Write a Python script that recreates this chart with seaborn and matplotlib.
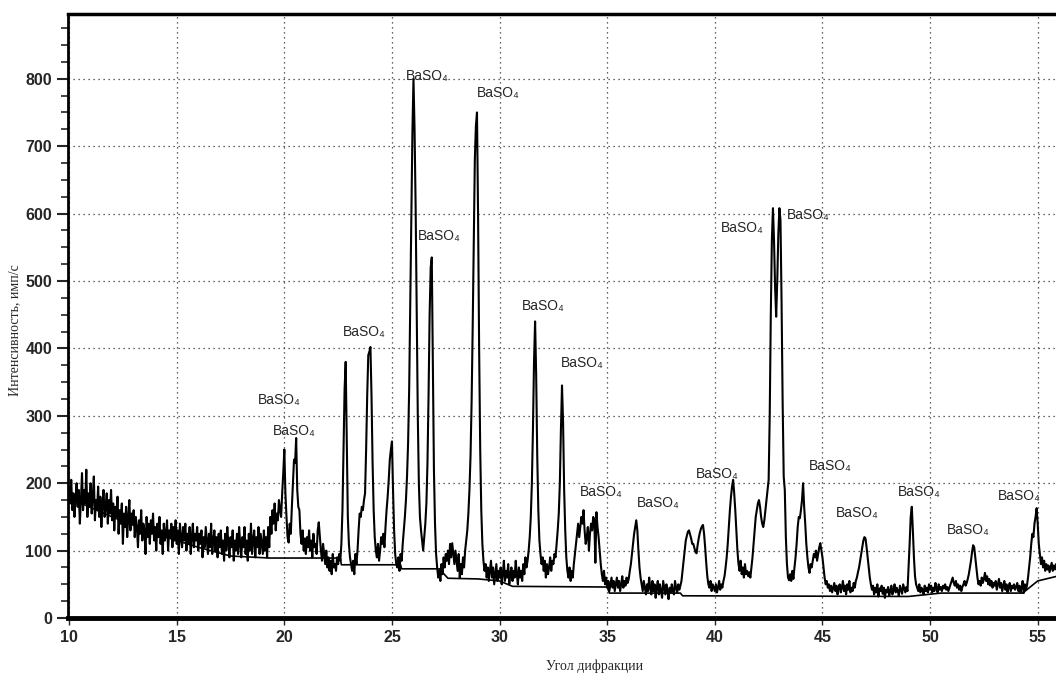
import numpy as np
import seaborn as sns
import matplotlib.pyplot as plt
from matplotlib.ticker import MultipleLocator

# XRD-дифрактограмма, шаг 0.05 град, начиная с 10.00
angle_start = 10.0
angle_step = 0.05
intensity = [
    195, 170, 205, 160, 185, 150, 178, 200, 165, 190, 140, 175, 215, 160, 190, 170, 220, 150, 185, 165,  # 10
    200, 155, 180, 210, 145, 175, 160, 195, 150, 180, 135, 170, 190, 150, 165, 185, 140, 175, 155, 190,  # 11
    145, 170, 130, 165, 150, 180, 125, 160, 140, 170, 110, 155, 135, 165, 120, 150, 175, 130, 155, 140,  # 12
    160, 120, 150, 135, 105, 145, 125, 160, 115, 140, 130, 95, 150, 120, 140, 110, 145, 125, 155, 115,   # 13
    135, 100, 140, 120, 150, 110, 130, 95, 140, 115, 125, 145, 100, 130, 120, 140, 105, 135, 115, 145,   # 14
    110, 130, 95, 140, 120, 105, 135, 115, 140, 100, 125, 110, 135, 95, 120, 140, 105, 125, 115, 135,    # 15
    100, 125, 110, 130, 90, 120, 105, 135, 115, 95, 125, 105, 140, 95, 115, 130, 100, 120, 90, 125,      # 16
    105, 130, 95, 115, 85, 125, 100, 135, 110, 90, 120, 105, 130, 85, 115, 100, 125, 95, 135, 110,       # 17
    90, 120, 105, 135, 95, 115, 85, 125, 100, 140, 95, 115, 130, 90, 120, 105, 135, 95, 125, 110,        # 18
    95, 130, 100, 120, 90, 135, 105, 150, 125, 160, 140, 170, 130, 155, 145, 175, 160, 150, 185, 215,    # 19
    250, 185, 150, 120, 112, 140, 125, 165, 200, 235, 230, 267, 190, 165, 160, 125, 110, 130, 100, 118,  # 20
    95, 120, 105, 130, 100, 115, 90, 125, 105, 110, 95, 130, 142, 120, 100, 85, 110, 95, 80, 100,        # 21
    75, 90, 70, 85, 65, 95, 75, 80, 70, 90, 80, 95, 85, 110, 160, 250, 340, 380, 260, 150,               # 22
    110, 90, 80, 70, 85, 65, 95, 80, 100, 130, 155, 150, 165, 160, 175, 185, 250, 330, 390, 395,         # 23
    402, 330, 230, 160, 120, 100, 90, 110, 85, 100, 120, 110, 125, 105, 135, 160, 180, 205, 235, 250,    # 24
    262, 190, 130, 95, 80, 75, 90, 70, 95, 85, 110, 130, 150, 175, 210, 260, 340, 470, 610, 720,         # 25
    800, 725, 610, 460, 300, 200, 150, 130, 115, 100, 120, 140, 170, 230, 330, 450, 520, 535, 380, 220,  # 26
    140, 95, 75, 60, 70, 55, 80, 65, 90, 75, 95, 85, 100, 80, 110, 90, 111, 95, 80, 100,                 # 27
    85, 70, 95, 60, 80, 65, 90, 75, 100, 115, 130, 155, 190, 240, 320, 430, 560, 680, 730, 750,          # 28
    600, 400, 250, 160, 110, 85, 70, 80, 60, 75, 55, 70, 85, 60, 75, 50, 65, 80, 55, 70,                 # 29
    60, 75, 50, 65, 85, 55, 70, 60, 80, 50, 65, 75, 55, 70, 60, 85, 65, 50, 75, 60,                      # 30
    70, 55, 80, 65, 90, 75, 85, 100, 120, 150, 200, 280, 380, 440, 360, 240, 160, 115, 95, 80,           # 31
    90, 70, 85, 60, 80, 65, 75, 90, 70, 85, 80, 95, 90, 110, 130, 155, 200, 280, 345, 290,               # 32
    190, 130, 90, 70, 60, 75, 55, 70, 60, 80, 95, 110, 125, 140, 120, 135, 150, 140, 160, 130,           # 33
    110, 120, 135, 100, 125, 140, 130, 150, 145, 82, 157, 135, 120, 100, 80, 65, 55, 70, 50, 60,         # 34
    45, 55, 40, 50, 60, 45, 55, 40, 50, 60, 45, 55, 40, 50, 62, 45, 55, 48, 60, 52,                      # 35
    58, 70, 80, 95, 110, 125, 135, 145, 130, 100, 75, 60, 50, 40, 55, 45, 35, 50, 40, 60,                # 36
    45, 35, 55, 40, 50, 30, 45, 55, 35, 50, 40, 30, 55, 45, 35, 50, 40, 28, 45, 38,                      # 37
    50, 40, 35, 55, 45, 38, 50, 42, 48, 55, 70, 85, 100, 115, 122, 128, 130, 124, 118, 110,              # 38
    110, 104, 98, 96, 108, 118, 126, 132, 136, 138, 125, 105, 82, 62, 50, 45, 55, 40, 50, 45,            # 39
    40, 50, 38, 45, 55, 42, 50, 45, 55, 62, 75, 90, 110, 135, 160, 180, 195, 205, 185, 160,              # 40
    130, 100, 80, 70, 85, 65, 75, 60, 80, 65, 70, 62, 68, 60, 75, 90, 110, 130, 150, 160,                # 41
    170, 175, 165, 150, 140, 135, 145, 160, 175, 190, 205, 300, 450, 560, 608, 560, 490, 447, 500, 570,  # 42
    608, 590, 470, 320, 210, 190, 120, 80, 60, 56, 65, 55, 70, 58, 75, 90, 110, 135, 150, 148,           # 43
    160, 175, 200, 165, 140, 110, 90, 75, 67, 80, 75, 85, 95, 90, 100, 85, 95, 105, 111, 100,            # 44
    90, 75, 60, 50, 55, 45, 50, 40, 48, 38, 45, 52, 40, 48, 35, 45, 50, 38, 45, 55,                      # 45
    40, 48, 35, 50, 42, 55, 38, 45, 40, 52, 45, 55, 60, 68, 75, 85, 95, 105, 115, 120,                   # 46
    118, 105, 90, 75, 60, 50, 42, 48, 35, 45, 38, 50, 32, 44, 40, 48, 36, 45, 30, 42,                    # 47
    38, 46, 33, 40, 48, 35, 42, 50, 38, 45, 40, 33, 48, 42, 36, 50, 44, 38, 46, 40,                      # 48
    75, 110, 150, 165, 130, 90, 62, 50, 45, 40, 50, 38, 45, 42, 35, 48, 40, 45, 38, 50,                  # 49
    42, 48, 38, 45, 40, 52, 44, 38, 50, 42, 46, 40, 48, 44, 50, 42, 46, 40, 45, 50,                      # 50
    55, 60, 52, 48, 55, 45, 50, 42, 48, 40, 46, 50, 55, 48, 52, 58, 65, 75, 85, 98,                      # 51
    108, 105, 90, 75, 60, 50, 55, 48, 60, 52, 58, 67, 55, 62, 50, 58, 48, 55, 45, 52,                    # 52
    48, 55, 42, 50, 58, 45, 52, 40, 48, 55, 42, 50, 38, 46, 52, 40, 48, 44, 50, 42,                      # 53
    46, 52, 40, 48, 38, 45, 55, 37, 50, 42, 48, 60, 75, 90, 110, 125, 120, 140, 150, 163,                # 54
    140, 110, 95, 80, 90, 75, 85, 70, 80, 72, 78, 68, 75, 82, 70, 78, 72, 80, 74, 76,                    # 55
]

# линия фона
bg_angle = [10, 12, 14, 16, 17.5, 19.3, 22.6, 22.65, 25.4, 25.45, 27.2, 27.6, 29.0, 30.0, 30.6,
            35.0, 35.1, 38.4, 38.5, 49.0, 50.5, 54.3, 55.0, 55.9]
bg_level = [178, 150, 125, 105, 92, 89, 89, 79, 79, 73, 73, 59, 58, 55, 47,
            46, 37, 37, 33, 32, 37, 37, 55, 62]

# подписи пиков: угол (левый край текста), интенсивность
label_angle = [25.65, 28.96, 26.2, 22.7, 18.75, 19.45, 31.05, 32.87, 40.27, 43.35,
               33.75, 36.36, 39.1, 44.37, 45.63, 48.52, 50.8, 53.13]
label_level = [804, 779, 567, 424, 323, 277, 463, 378, 579, 598,
               187, 171, 214, 225, 156, 187, 131, 181]
label_text = "BaSO\u2084"

angles = angle_start + angle_step * np.arange(len(intensity))

sns.set_style("white")
plt.rcParams['font.family'] = ['Liberation Sans', 'DejaVu Sans']

fig = plt.figure(figsize=(10.56, 6.75), dpi=100)
ax = fig.add_axes([0.0644, 0.0844, 0.9356, 0.8948])

sns.lineplot(x=angles, y=intensity, color="black", linewidth=1.5,
             estimator=None, sort=False, ax=ax)
sns.lineplot(x=bg_angle, y=bg_level, color="black", linewidth=1.2,
             estimator=None, sort=False, ax=ax)

for a, v in zip(label_angle, label_level):
    ax.text(a, v, label_text, fontsize=10, ha="left", va="center",
            family=['Liberation Sans', 'DejaVu Sans'])

ax.set_xlim(9.95, 55.85)
ax.set_ylim(0, 896)
ax.xaxis.set_major_locator(MultipleLocator(5))
ax.yaxis.set_major_locator(MultipleLocator(100))
ax.yaxis.set_minor_locator(MultipleLocator(25))
ax.set_yticks(range(0, 900, 100))

ax.grid(True, which="major", color="#333333", linestyle=(0, (1, 3)), linewidth=0.9)
ax.tick_params(axis="y", which="major", direction="out", length=8, width=1.5,
               labelsize=11.5, left=True)
ax.tick_params(axis="y", which="minor", direction="out", length=5, width=1.2, left=True)
ax.tick_params(axis="x", which="major", direction="out", length=5, width=1.0,
               labelsize=11.5, bottom=True)
for lbl in ax.get_xticklabels() + ax.get_yticklabels():
    lbl.set_fontweight("bold")

ax.spines["right"].set_visible(False)
ax.spines["left"].set_linewidth(2)
ax.spines["top"].set_linewidth(2.5)
ax.spines["bottom"].set_linewidth(3.5)
for s in ax.spines.values():
    s.set_color("black")

ax.set_xlabel("Угол дифракции", fontsize=10, family=['Liberation Serif', 'DejaVu Serif'])
ax.set_ylabel("Интенсивность, имп/с", fontsize=10, family=['Liberation Serif', 'DejaVu Serif'])
ax.xaxis.set_label_coords(0.533, -0.068)
ax.yaxis.set_label_coords(-0.047, 0.477)

fig.savefig("out.png", dpi=100)
